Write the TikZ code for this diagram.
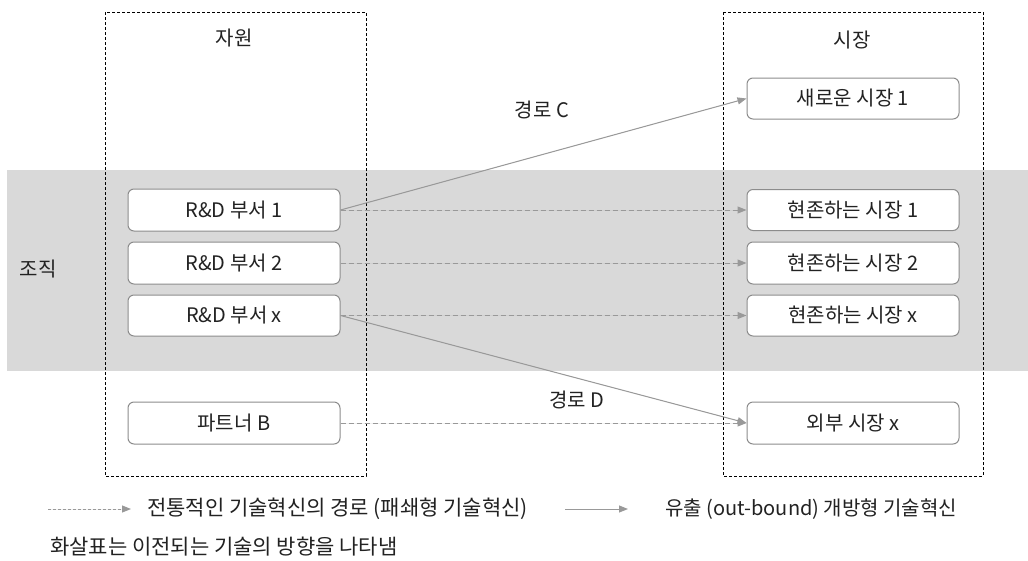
\documentclass[tikz,border=0pt]{standalone}
\usepackage{fontspec}
\setmainfont{Noto Sans CJK KR}
\usetikzlibrary{arrows.meta}
\definecolor{band}{HTML}{D9D9D9}
\definecolor{arr}{HTML}{999999}
\definecolor{boxline}{HTML}{8C8C8C}
\definecolor{txt}{HTML}{222222}
\tikzset{
  lbl/.style={font=\fontsize{20}{23}\selectfont, text=txt, inner sep=0pt},
  biglbl/.style={font=\fontsize{21}{24}\selectfont, text=txt, inner sep=0pt},
  unit/.style={draw=boxline, line width=1pt, rounded corners=6pt, fill=white,
    minimum width=212pt, minimum height=41pt, inner sep=0pt,
    font=\fontsize{20}{23}\selectfont, text=txt},
  frame/.style={draw=black, line width=0.9pt, dash pattern=on 3pt off 2pt},
  tip/.style={-{Triangle[length=9pt,width=7pt]}},
  closedarr/.style={tip, draw=arr, fill=arr, line width=1pt, dash pattern=on 5pt off 3pt},
  openarr/.style={tip, draw=arr, fill=arr, line width=1pt}
}
\begin{document}
\begin{tikzpicture}[x=1pt,y=-1pt]
\useasboundingbox (0,0) rectangle (1028,560);
\fill[white] (0,0) rectangle (1028,560);
% gray band
\fill[band] (7,170) rectangle (1028,371);
% frames
\draw[frame] (105,12) rectangle (366,476);
\draw[frame] (723,12) rectangle (983,476);
% headings
\node[lbl] (res) at (234,38) {자원};
\node[lbl] (mkt) at (852,40) {시장};
\node[lbl] (org) at (38,269) {조직};
\node[lbl] (pc) at (542,110) {경로 C};
\node[lbl] (pd) at (577,400) {경로 D};
% left units
\node[unit, minimum height=42pt] (rd1) at (234,210) {R\&D 부서 1};
\node[unit, minimum height=42pt] (rd2) at (234,263) {R\&D 부서 2};
\node[unit] (rdx) at (234,315.5) {R\&D 부서 x};
\node[unit, minimum height=42pt] (pb) at (234,423) {파트너 B};
% right units
\node[unit] (nm1) at (853,98.5) {새로운 시장 1};
\node[unit] (em1) at (853,210) {현존하는 시장 1};
\node[unit, minimum height=42pt] (em2) at (853,263) {현존하는 시장 2};
\node[unit] (emx) at (853,315.5) {현존하는 시장 x};
\node[unit, minimum height=42pt] (ext) at (853,423) {외부 시장 x};
% connectors
\draw[closedarr] (rd1.east) -- (em1.west);
\draw[closedarr] (rd2.east) -- (em2.west);
\draw[closedarr] (rdx.east) -- (emx.west);
\draw[closedarr] (pb.east) -- (ext.west);
\draw[openarr] (rd1.east) -- (nm1.west);
\draw[openarr] (rdx.east) -- (ext.west);
% legend
\coordinate (l1a) at (48,509);
\coordinate (l1b) at (131,509);
\draw[closedarr, dash pattern=on 3pt off 2pt] (l1a) -- (l1b);
\node[biglbl, anchor=west] (lt1) at (147,509) {전통적인 기술혁신의 경로 (패쇄형 기술혁신)};
\coordinate (l2a) at (565,509);
\coordinate (l2b) at (628,509);
\draw[openarr] (l2a) -- (l2b);
\node[lbl, anchor=west] (lt2) at (665,509) {유출 (out-bound) 개방형 기술혁신};
\node[biglbl, anchor=west] (lt3) at (50,547) {화살표는 이전되는 기술의 방향을 나타냄};
\end{tikzpicture}
\end{document}
